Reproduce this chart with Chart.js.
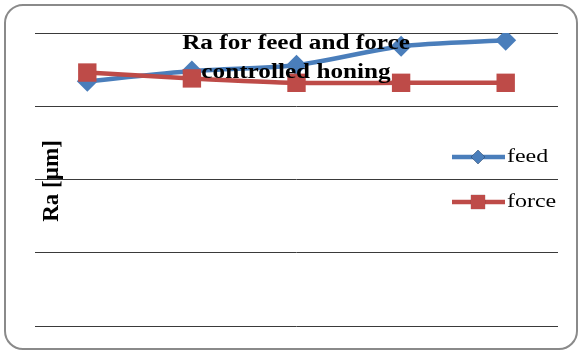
<!DOCTYPE html>
<html>
<head>
<meta charset="utf-8">
<script src="https://cdn.jsdelivr.net/npm/chart.js@4/dist/chart.umd.min.js"></script>
<style>
  html, body { margin: 0; padding: 0; background: #fff; }
  #wrap { width: 582px; height: 352px; position: relative; }
</style>
</head>
<body>
<div id="wrap"><canvas id="c" width="582" height="352"></canvas></div>
<script>
// Honing runs (no labels shown on the x axis)
const runs = ['1', '2', '3', '4', '5'];
// Surface roughness Ra [µm]
const feedRa = [1.67, 1.74, 1.78, 1.91, 1.95];
const forceRa = [1.73, 1.69, 1.66, 1.66, 1.66];
// Value axis
const yMin = 0, yMax = 2, yStep = 0.5;

const titleLines = ['Ra for feed and force', 'controlled honing'];
const yTitle = 'Ra [µm]';

const BLUE = '#4a7ebb';
const RED = '#be4b48';
const SERIF = '"Liberation Serif", "Times New Roman", serif';
// Horizontal widening applied to the text
const WIDE = 1.26;

// Draw text widened horizontally around its anchor
function wideText(ctx, text, x, y, align) {
  ctx.save();
  ctx.translate(x, y);
  ctx.scale(WIDE, 1);
  ctx.textAlign = align;
  ctx.fillText(text, 0, 0);
  ctx.restore();
}

// Rounded frame around the whole chart
const framePlugin = {
  id: 'frame',
  beforeDraw(chart) {
    const ctx = chart.ctx;
    ctx.save();
    ctx.fillStyle = '#fff';
    ctx.fillRect(0, 0, chart.width, chart.height);
    ctx.strokeStyle = '#8a8a8a';
    ctx.lineWidth = 2;
    ctx.beginPath();
    ctx.roundRect(5, 5, chart.width - 10, chart.height - 8, 18);
    ctx.stroke();
    ctx.restore();
  }
};

// Title and axis title drawn over the plot area
const overlayPlugin = {
  id: 'overlay',
  afterDatasetsDraw(chart) {
    const ctx = chart.ctx;
    ctx.save();
    ctx.fillStyle = '#000';
    ctx.textBaseline = 'middle';
    ctx.font = 'bold 20px ' + SERIF;
    wideText(ctx, titleLines[0], 296, 44, 'center');
    wideText(ctx, titleLines[1], 296, 73, 'center');

    ctx.translate(52, 181);
    ctx.rotate(-Math.PI / 2);
    ctx.textAlign = 'center';
    ctx.font = 'bold 23px ' + SERIF;
    ctx.fillText(yTitle, 0, 0);
    ctx.restore();
  }
};

// Legend entries to the right, using each dataset's own style
const legendPlugin = {
  id: 'sideLegend',
  afterDraw(chart) {
    const ctx = chart.ctx;
    const rows = [157, 202];
    const markerRadius = { rectRot: 7, rect: 10 };
    chart.data.datasets.forEach((ds, i) => {
      const y = rows[i];
      ctx.save();
      ctx.strokeStyle = ds.borderColor;
      ctx.lineWidth = ds.borderWidth;
      ctx.beginPath();
      ctx.moveTo(452, y);
      ctx.lineTo(505, y);
      ctx.stroke();
      Chart.helpers.drawPoint(ctx, {
        pointStyle: ds.pointStyle,
        radius: markerRadius[ds.pointStyle],
        borderWidth: 0,
        rotation: 0
      }, 478, y);
      ctx.fillStyle = ds.pointBackgroundColor;
      ctx.fill();
      ctx.fillStyle = '#000';
      ctx.font = '19px ' + SERIF;
      ctx.textBaseline = 'middle';
      wideText(ctx, ds.label, 507, y, 'left');
      ctx.restore();
    });
  }
};

new Chart(document.getElementById('c'), {
  type: 'line',
  data: {
    labels: runs,
    datasets: [
      {
        label: 'feed',
        data: feedRa,
        borderColor: BLUE,
        backgroundColor: BLUE,
        pointBackgroundColor: BLUE,
        pointBorderColor: BLUE,
        borderWidth: 4.5,
        pointStyle: 'rectRot',
        pointRadius: 10.5,
        pointBorderWidth: 0,
        tension: 0.2,
        order: 1
      },
      {
        label: 'force',
        data: forceRa,
        borderColor: RED,
        backgroundColor: RED,
        pointBackgroundColor: RED,
        pointBorderColor: RED,
        borderWidth: 4.5,
        pointStyle: 'rect',
        pointRadius: 13,
        pointBorderWidth: 0,
        tension: 0.2,
        order: 0
      }
    ]
  },
  options: {
    responsive: false,
    animation: false,
    events: [],
    layout: { padding: { left: 35, right: 24, top: 33, bottom: 26 } },
    plugins: {
      legend: { display: false },
      title: { display: false },
      tooltip: { enabled: false }
    },
    scales: {
      x: {
        display: false,
        offset: true
      },
      y: {
        min: yMin,
        max: yMax,
        ticks: { display: false, stepSize: yStep },
        border: { display: false },
        grid: { color: '#3a3a3a', lineWidth: 1, drawTicks: false, tickLength: 0 }
      }
    }
  },
  plugins: [framePlugin, overlayPlugin, legendPlugin]
});
</script>
</body>
</html>
